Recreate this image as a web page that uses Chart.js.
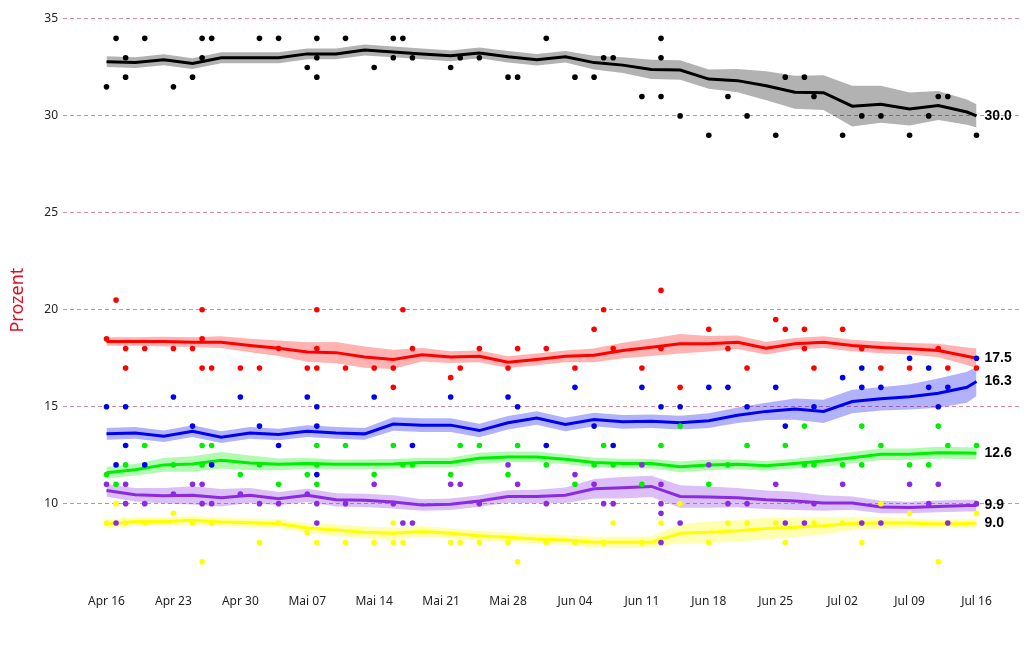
<!DOCTYPE html>
<html>
<head>
<meta charset="utf-8">
<title>Umfragen</title>
<script src="https://cdn.jsdelivr.net/npm/chart.js@4.4.1/dist/chart.umd.min.js"></script>
<style>
  html, body { margin: 0; padding: 0; background: #fff; }
  #wrap { width: 1029px; height: 651px; }
</style>
</head>
<body>
<div id="wrap"><canvas id="chart" width="1029" height="651"></canvas></div>
<script>
// x-Achse: Tage seit dem 16. April
const weekDays = [0, 7, 14, 21, 28, 35, 42, 49, 56, 63, 70, 77, 84, 91];
const weekLabels = ['Apr 16', 'Apr 23', 'Apr 30', 'Mai 07', 'Mai 14', 'Mai 21', 'Mai 28',
                    'Jun 04', 'Jun 11', 'Jun 18', 'Jun 25', 'Jul 02', 'Jul 09', 'Jul 16'];
const yTicks = [10, 15, 20, 25, 30, 35];

// Tage der geglaetteten Trendlinie
const trendDays = [0, 3, 6, 9, 12, 15, 18, 21, 24, 27, 30, 33, 36, 39, 42, 45,
                   48, 51, 54, 57, 60, 63, 66, 69, 72, 75, 78, 81, 84, 87, 90, 91];

// CDU/CSU
const cduDays  = [0, 1, 2, 2, 4, 7, 9, 10, 10, 11, 16, 18, 21, 22, 22, 22, 25, 28, 30, 30, 31, 32, 36, 37, 39, 42,
                  43, 46, 49, 51, 52, 53, 56, 58, 58, 58, 60, 63, 65, 67, 70, 71, 73, 74, 77, 79, 81, 84, 86, 87, 88, 91];
const cduPolls = [31.5, 34, 33, 32, 34, 31.5, 32, 34, 33, 34, 34, 34, 32.5, 34, 33, 32, 34, 32.5, 34, 33, 34, 33, 32.5, 33, 33, 32,
                  32, 34, 32, 32, 33, 33, 31, 34, 33, 31, 30, 29, 31, 30, 29, 32, 32, 31, 29, 30, 30, 29, 30, 31, 31, 29];
const cduTrend = [32.8, 32.75, 32.9, 32.7, 33.0, 33.0, 33.0, 33.2, 33.2, 33.4, 33.3, 33.2, 33.1, 33.25, 33.05, 32.9,
                  33.05, 32.75, 32.62, 32.4, 32.37, 31.9, 31.82, 31.56, 31.22, 31.2, 30.5, 30.6, 30.36, 30.54, 30.2, 30.0];
const cduBand  = [0.28, 0.28, 0.28, 0.28, 0.28, 0.28, 0.28, 0.28, 0.28, 0.28, 0.28, 0.28, 0.28, 0.28, 0.3, 0.3,
                  0.3, 0.35, 0.4, 0.5, 0.5, 0.5, 0.6, 0.75, 0.85, 0.9, 1.05, 0.95, 0.85, 0.75, 0.65, 0.6];

// SPD
const spdDays  = [0, 1, 2, 2, 4, 7, 9, 10, 10, 10, 11, 14, 16, 18, 21, 22, 22, 22, 25, 28, 30, 30, 31, 32, 36, 37,
                  39, 42, 43, 46, 49, 51, 52, 53, 56, 58, 58, 60, 63, 65, 67, 70, 71, 73, 73, 74, 77, 79, 81, 84, 87, 88, 91];
const spdPolls = [18.5, 20.5, 18, 17, 18, 18, 18, 20, 18.5, 17, 17, 17, 17, 18, 17, 20, 18, 17, 17, 17, 17, 16, 20, 18, 16.5, 17,
                  18, 17, 18, 18, 17, 19, 20, 18, 17, 21, 18, 16, 19, 18, 17, 19.5, 19, 19, 18, 17, 19, 18, 17, 17, 18, 17, 17];
const spdTrend = [18.36, 18.36, 18.36, 18.33, 18.33, 18.16, 18.02, 17.82, 17.79, 17.56, 17.44, 17.68, 17.56, 17.6, 17.3, 17.44,
                  17.6, 17.65, 17.9, 18.07, 18.25, 18.25, 18.33, 18.02, 18.25, 18.33, 18.16, 18.06, 17.99, 17.9, 17.6, 17.5];
const spdBand  = [0.22, 0.22, 0.25, 0.25, 0.3, 0.35, 0.4, 0.5, 0.55, 0.55, 0.5, 0.35, 0.3, 0.3, 0.3, 0.3,
                  0.3, 0.35, 0.4, 0.45, 0.5, 0.4, 0.35, 0.32, 0.3, 0.3, 0.3, 0.3, 0.3, 0.35, 0.45, 0.5];

// AfD
const afdDays  = [0, 1, 2, 2, 4, 7, 9, 11, 14, 16, 18, 21, 22, 22, 22, 28, 32, 36, 42, 43, 46, 49, 51, 53, 56, 58,
                  60, 63, 65, 67, 70, 71, 74, 77, 79, 79, 81, 84, 86, 86, 87, 88, 91];
const afdPolls = [15, 12, 15, 13, 12, 15.5, 14, 12, 15.5, 14, 13, 15.5, 15, 14, 11.5, 15.5, 13, 15.5, 15.5, 15, 13, 16, 14, 13, 16, 15,
                  15, 16, 16, 15, 16, 14, 15, 16.5, 17, 16, 16, 17.5, 17, 16, 15, 16, 17.5];
const afdTrend = [13.6, 13.65, 13.48, 13.74, 13.43, 13.65, 13.57, 13.74, 13.65, 13.6, 14.11, 14.05, 14.05, 13.77, 14.17, 14.42,
                  14.08, 14.34, 14.22, 14.25, 14.18, 14.28, 14.56, 14.76, 14.88, 14.76, 15.27, 15.41, 15.51, 15.7, 16.0, 16.3];
const afdBand  = [0.3, 0.3, 0.3, 0.3, 0.3, 0.3, 0.3, 0.3, 0.3, 0.3, 0.35, 0.35, 0.35, 0.35, 0.35, 0.35,
                  0.35, 0.35, 0.35, 0.35, 0.35, 0.38, 0.4, 0.45, 0.55, 0.6, 0.6, 0.6, 0.65, 0.75, 0.8, 0.75];

// Gruene
const grueneDays  = [0, 1, 2, 4, 7, 10, 10, 11, 14, 16, 18, 21, 22, 22, 22, 25, 28, 30, 31, 32, 36, 37, 39, 42, 43,
                     46, 49, 51, 52, 53, 56, 58, 60, 63, 65, 67, 71, 73, 73, 74, 77, 79, 79, 81, 84, 86, 87, 88, 91];
const gruenePolls = [11.5, 11, 12, 13, 12, 13, 12, 13, 11.5, 12, 11, 11.5, 13, 12, 11, 13, 11.5, 13, 12, 12, 11.5, 13, 13, 11.5, 13,
                     12, 11, 12, 13, 12, 11, 13, 14, 11, 12, 13, 13, 14, 12, 12, 12, 14, 12, 13, 12, 12, 14, 13, 13];
const grueneTrend = [11.6, 11.75, 12.0, 12.05, 12.24, 12.1, 12.03, 12.07, 12.03, 12.03, 12.05, 12.12, 12.12, 12.34, 12.41, 12.41,
                     12.29, 12.12, 12.07, 12.07, 11.9, 12.0, 12.03, 11.95, 12.07, 12.2, 12.37, 12.55, 12.55, 12.63, 12.61, 12.6];
const grueneBand  = [0.3, 0.3, 0.35, 0.4, 0.42, 0.38, 0.3, 0.28, 0.25, 0.25, 0.25, 0.25, 0.25, 0.28, 0.28, 0.28,
                     0.25, 0.25, 0.25, 0.25, 0.28, 0.28, 0.25, 0.25, 0.25, 0.28, 0.3, 0.3, 0.3, 0.3, 0.3, 0.3];

// Linke
const linkeDays  = [0, 1, 2, 2, 4, 7, 9, 10, 10, 11, 14, 16, 18, 21, 22, 22, 25, 28, 30, 31, 32, 36, 37, 39, 42, 43,
                    46, 49, 51, 52, 53, 56, 58, 58, 58, 58, 60, 63, 65, 67, 70, 71, 73, 74, 77, 79, 81, 84, 86, 87, 88, 91];
const linkePolls = [11, 9, 11, 10, 10, 10.5, 11, 11, 10, 10, 10.5, 10, 10, 10.5, 10, 9, 10, 11, 10, 9, 9, 11, 11, 10, 12, 11,
                    10, 11.5, 11, 10, 10, 12, 11, 10, 9.5, 8, 9, 12, 10, 10, 11, 9, 9, 10, 11, 9, 9, 11, 10, 11, 9, 10];
const linkeTrend = [10.68, 10.46, 10.41, 10.43, 10.31, 10.43, 10.26, 10.43, 10.2, 10.17, 10.09, 9.93, 9.97, 10.14, 10.37, 10.37,
                    10.43, 10.77, 10.82, 10.89, 10.37, 10.34, 10.31, 10.2, 10.14, 10.03, 10.03, 9.83, 9.8, 9.86, 9.9, 9.9];
const linkeBand  = [0.32, 0.35, 0.4, 0.47, 0.45, 0.38, 0.34, 0.34, 0.34, 0.34, 0.34, 0.3, 0.3, 0.3, 0.32, 0.35,
                    0.4, 0.5, 0.55, 0.55, 0.58, 0.55, 0.5, 0.48, 0.47, 0.4, 0.34, 0.32, 0.3, 0.3, 0.3, 0.3];

// FDP
const fdpDays  = [0, 1, 2, 4, 7, 9, 10, 11, 16, 18, 21, 22, 25, 28, 30, 30, 31, 36, 37, 39, 42, 43, 46, 49, 52, 53,
                  56, 58, 60, 63, 65, 67, 70, 71, 74, 77, 79, 81, 84, 87, 88, 91];
const fdpPolls = [9, 10, 9, 9, 9.5, 9, 7, 9, 8, 9, 8.5, 8, 8, 8, 9, 8, 8, 8, 8, 8, 8, 7, 8, 8, 8, 9,
                  8, 9, 10, 8, 9, 9, 9, 8, 9, 9, 8, 10, 9.5, 7, 9, 9.5];
const fdpTrend = [8.95, 9.08, 9.08, 9.15, 9.05, 9.02, 8.98, 8.74, 8.64, 8.52, 8.47, 8.57, 8.47, 8.35, 8.27, 8.18,
                  8.13, 8.01, 8.01, 8.01, 8.47, 8.52, 8.6, 8.72, 8.78, 8.86, 8.98, 9.0, 9.0, 8.95, 8.98, 9.0];
const fdpBand  = [0.25, 0.22, 0.22, 0.22, 0.22, 0.22, 0.22, 0.25, 0.3, 0.3, 0.3, 0.28, 0.25, 0.25, 0.25, 0.25,
                  0.25, 0.28, 0.3, 0.3, 0.5, 0.55, 0.55, 0.55, 0.5, 0.45, 0.35, 0.3, 0.25, 0.22, 0.22, 0.22];

const parties = [
    { color: '#000000', rgb: '0,0,0',       days: cduDays,    polls: cduPolls,    trend: cduTrend,    band: cduBand },
    { color: '#ff0000', rgb: '255,0,0',     days: spdDays,    polls: spdPolls,    trend: spdTrend,    band: spdBand },
    { color: '#0000f0', rgb: '0,0,240',     days: afdDays,    polls: afdPolls,    trend: afdTrend,    band: afdBand },
    { color: '#00ee00', rgb: '0,238,0',     days: grueneDays, polls: gruenePolls, trend: grueneTrend, band: grueneBand },
    { color: '#8a2be2', rgb: '138,43,226',  days: linkeDays,  polls: linkePolls,  trend: linkeTrend,  band: linkeBand },
    { color: '#ffff00', rgb: '255,255,0',   days: fdpDays,    polls: fdpPolls,    trend: fdpTrend,    band: fdpBand }
];

// Datensaetze: Band unten, Band oben (gefuellt), Trendlinie, Umfragepunkte
const datasets = [];
parties.forEach(p => {
    datasets.push({
        data: trendDays.map((d, i) => ({ x: d, y: p.trend[i] - p.band[i] })),
        borderWidth: 0, pointRadius: 0, fill: false, order: 3
    });
    datasets.push({
        data: trendDays.map((d, i) => ({ x: d, y: p.trend[i] + p.band[i] })),
        borderWidth: 0, pointRadius: 0, fill: '-1',
        backgroundColor: 'rgba(' + p.rgb + ',0.3)', order: 3
    });
    datasets.push({
        data: trendDays.map((d, i) => ({ x: d, y: p.trend[i] })),
        borderColor: p.color, borderWidth: 3, pointRadius: 0, fill: false, order: 2
    });
    datasets.push({
        data: p.days.map((d, i) => ({ x: d, y: p.polls[i] })),
        showLine: false, pointRadius: 2.8, pointBorderWidth: 0,
        pointBackgroundColor: p.color, order: 1
    });
});

// Endwerte rechts neben den Linien
const endLabels = {
    id: 'endLabels',
    afterDatasetsDraw(chart) {
        const { ctx, scales: { x, y } } = chart;
        const lastDay = trendDays[trendDays.length - 1];
        ctx.save();
        ctx.font = 'bold 14px "Liberation Sans", Arial, sans-serif';
        ctx.fillStyle = '#000';
        ctx.textBaseline = 'middle';
        parties.forEach(p => {
            const last = p.trend[p.trend.length - 1];
            ctx.fillText(last.toFixed(1), x.getPixelForValue(lastDay) + 8, y.getPixelForValue(last));
        });
        ctx.restore();
    }
};

const tickFont = { family: '"Noto Sans", sans-serif', size: 12 };

new Chart(document.getElementById('chart'), {
    type: 'line',
    data: { datasets: datasets },
    options: {
        responsive: false,
        animation: false,
        layout: { padding: { top: 8, right: 9, left: 0, bottom: 0 } },
        plugins: { legend: { display: false }, tooltip: { enabled: false } },
        scales: {
            x: {
                type: 'linear', min: -4.55, max: 95.55,
                grid: { display: false, drawTicks: false },
                border: { display: false },
                afterBuildTicks: s => { s.ticks = weekDays.map(v => ({ value: v })); },
                afterFit: s => { s.height = 63; },
                ticks: {
                    autoSkip: false, maxRotation: 0, padding: 6, color: '#222', font: tickFont,
                    callback: v => weekLabels[weekDays.indexOf(v)]
                }
            },
            y: {
                min: 5.65, max: 35.35,
                grid: { color: '#d98a9c', lineWidth: 1, drawTicks: false },
                border: { display: false, dash: [4, 3] },
                afterBuildTicks: s => { s.ticks = yTicks.map(v => ({ value: v })); },
                afterFit: s => { s.width = 63; },
                ticks: { padding: 5, color: '#222', font: tickFont },
                title: {
                    display: true, text: 'Prozent', color: '#dd1122',
                    font: { family: '"Noto Sans", sans-serif', size: 18 },
                    padding: { top: 7, bottom: 0 }
                }
            }
        }
    },
    plugins: [endLabels]
});
</script>
</body>
</html>
